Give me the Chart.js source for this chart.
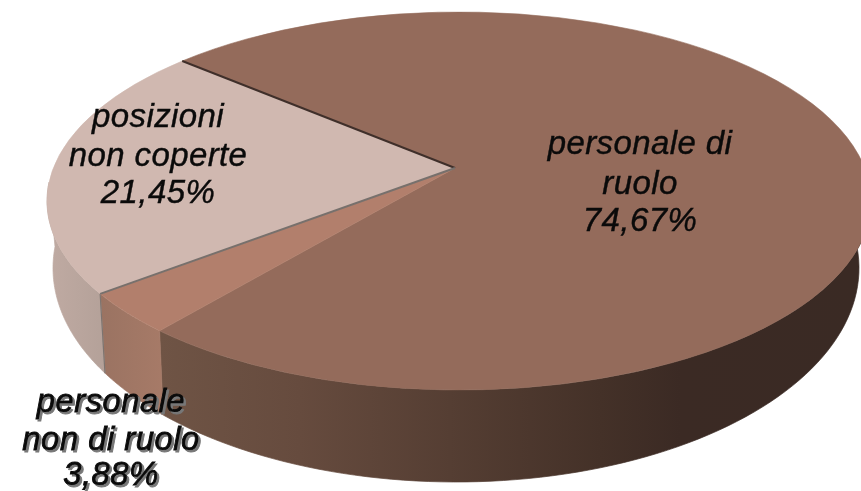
<!DOCTYPE html>
<html><head><meta charset="utf-8">
<style>html,body{margin:0;padding:0;background:#fff}canvas{display:block}</style>
<script src="https://cdn.jsdelivr.net/npm/chart.js@4"></script>
</head><body><canvas id="c" width="861" height="491"></canvas>
<script>
const categories = ["personale di ruolo", "personale non di ruolo", "posizioni non coperte"];
const values = [74.67, 3.88, 21.45];
const percentLabels = ["74,67%", "3,88%", "21,45%"];
const labelLines = [["personale di", "ruolo", "74,67%"], ["personale", "non di ruolo", "3,88%"], ["posizioni", "non coperte", "21,45%"]];
const faceColors = ["#946b5b", "#b27f6c", "#d0b8b0"];

const TOP = {cx: 459, cy: 201, a: 412, b: 189};
const BOT = {cx: 456, cy: 268, a: 403, b: 214};
const APEX = {x: 455, y: 168};
const LABEL_POS = [{x: 640, y: [154, 194, 231]}, {x: 111, y: [412, 450, 485]}, {x: 158, y: [127, 166, 203]}];

function pt(e, t) { return [e.cx + e.a * Math.cos(t), e.cy + e.b * Math.sin(t)]; }
function wallPath(ctx, t0, t1) {
  ctx.beginPath();
  const n = 80;
  for (let i = 0; i <= n; i++) { const p = pt(TOP, t0 + (t1 - t0) * i / n); i ? ctx.lineTo(p[0], p[1]) : ctx.moveTo(p[0], p[1]); }
  for (let i = n; i >= 0; i--) { const p = pt(BOT, t0 + (t1 - t0) * i / n); ctx.lineTo(p[0], p[1]); }
  ctx.closePath();
}
function grad(ctx, stops) {
  const g = ctx.createLinearGradient(0, 0, 861, 0);
  stops.forEach(s => g.addColorStop(s[0] / 861, s[1]));
  return g;
}
const wallFills = [
  [[160, "#6f5445"], [300, "#664b3e"], [450, "#553e33"], [600, "#443128"], [680, "#3b2a24"], [861, "#3a2a24"]],
  [[100, "#9a7362"], [170, "#a87b68"]],
  [[50, "#bfaaa2"], [105, "#b4a199"]]
];

const pie3d = {
  id: "pie3d",
  beforeDatasetsDraw(chart) {
    const ctx = chart.ctx, arcs = chart.getDatasetMeta(0).data;
    const L = Math.PI * 2;
    const vis0 = -0.1, vis1 = Math.PI + 0.1;
    ctx.save();
    ctx.beginPath(); ctx.rect(0, 0, 861, 491); ctx.clip();
    arcs.forEach((arc, i) => {
      let s = arc.startAngle, e = arc.endAngle;
      for (let k = -1; k <= 1; k++) {
        const a = Math.max(s + k * L, vis0), b = Math.min(e + k * L, vis1);
        if (b > a) {
          wallPath(ctx, a, b);
          const f = grad(ctx, wallFills[i]);
          ctx.fillStyle = f; ctx.fill();
          ctx.strokeStyle = f; ctx.lineWidth = 0.7; ctx.stroke();
        }
      }
    });
    const seam = arcs[1].endAngle;
    const p0 = pt(TOP, seam), p1 = pt(BOT, seam);
    ctx.strokeStyle = "#7d7470"; ctx.lineWidth = 1.2;
    ctx.beginPath(); ctx.moveTo(p0[0], p0[1]); ctx.lineTo(p1[0], p1[1]); ctx.stroke();
    arcs.forEach((arc, i) => {
      ctx.beginPath();
      ctx.moveTo(APEX.x, APEX.y);
      ctx.ellipse(TOP.cx, TOP.cy, TOP.a, TOP.b, 0, arc.startAngle, arc.endAngle);
      ctx.closePath();
      ctx.fillStyle = arc.options.backgroundColor; ctx.fill();
      ctx.strokeStyle = arc.options.backgroundColor; ctx.lineWidth = 0.6; ctx.stroke();
    });
    const edge = (t, col, w) => { const p = pt(TOP, t);
      ctx.strokeStyle = col; ctx.lineWidth = w;
      ctx.beginPath(); ctx.moveTo(APEX.x, APEX.y); ctx.lineTo(p[0], p[1]); ctx.stroke(); };
    edge(arcs[0].startAngle, "#3f2f2a", 2);
    edge(arcs[1].endAngle, "#77706c", 2);
    ctx.restore();
    return false;
  },
  afterDraw(chart) {
    const ctx = chart.ctx;
    ctx.save();
    ctx.font = "italic 33px 'Liberation Sans', Arial, sans-serif";
    ctx.letterSpacing = "0.4px";
    ctx.textAlign = "center"; ctx.textBaseline = "alphabetic";
    ctx.fillStyle = "#0a0a0a";
    ctx.strokeStyle = "#0a0a0a";
    labelLines.forEach((lines, i) => {
      lines.forEach((line, j) => {
        if (i === 1) { ctx.shadowColor = "#777"; ctx.shadowOffsetX = 2; ctx.shadowOffsetY = 2; ctx.shadowBlur = 0; ctx.lineWidth = 0.9; }
        else { ctx.shadowColor = "transparent"; ctx.lineWidth = 0.4; }
        ctx.strokeText(line, LABEL_POS[i].x, LABEL_POS[i].y[j]);
        ctx.fillText(line, LABEL_POS[i].x, LABEL_POS[i].y[j]);
      });
    });
    ctx.restore();
  }
};

new Chart(document.getElementById("c"), {
  type: "pie",
  data: { labels: categories, datasets: [{ data: values, backgroundColor: faceColors, borderWidth: 0 }] },
  options: {
    responsive: false, animation: false, rotation: 317.8,
    plugins: { legend: { display: false }, tooltip: { enabled: false } }
  },
  plugins: [pie3d]
});
</script></body></html>
